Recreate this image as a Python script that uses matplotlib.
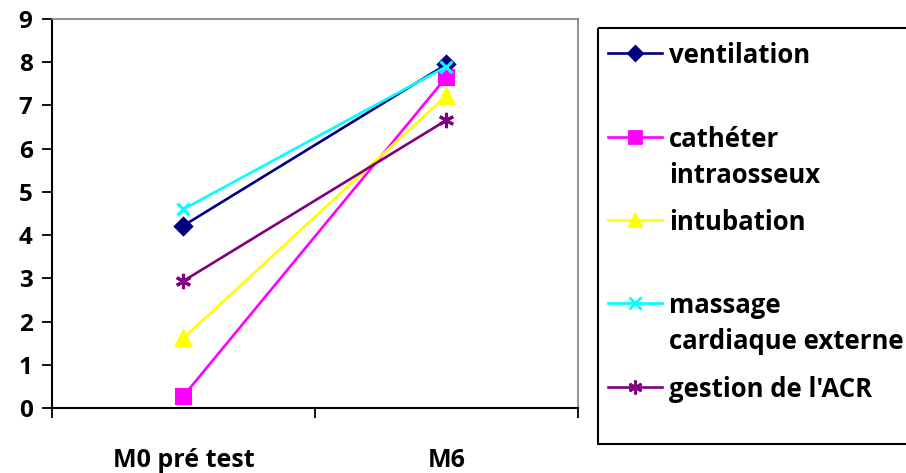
import matplotlib
matplotlib.use("Agg")
import matplotlib.pyplot as plt
from matplotlib.patches import Rectangle

plt.rcParams["font.family"] = ["Open Sans", "DejaVu Sans"]
plt.rcParams["font.weight"] = "bold"

# data
periods = ["M0 pré test", "M6"]
ventilation = [4.22, 7.95]
catheter = [0.28, 7.66]
intubation = [1.62, 7.23]
massage = [4.6, 7.9]
gestion = [2.94, 6.66]

labels = ["ventilation", "cathéter\nintraosseux", "intubation",
          "massage\ncardiaque externe", "gestion de l'ACR"]
colors = ["#000080", "#FF00FF", "#FFFF00", "#00FFFF", "#800080"]
markers = ["D", "s", "^", "x", (6, 2, 0)]
msizes = [8, 10, 10, 9, 11]
series = [ventilation, catheter, intubation, massage, gestion]

W, H = 906, 473
fig = plt.figure(figsize=(W / 100, H / 100), dpi=100)
ax = fig.add_axes([52 / W, 1 - 408 / H, (578 - 52) / W, (408 - 19) / H])

x = list(range(len(periods)))
for vals, c, m, ms in zip(series, colors, markers, msizes):
    ax.plot(x, vals, color=c, lw=1.9, marker=m, ms=ms, mec=c, mfc=c, mew=2.2)

ax.set_xlim(-0.5, 1.5)
ax.set_ylim(0, 9)
ax.set_yticks(range(10))
ax.set_xticks([-0.5, 0.5, 1.5], minor=False)
ax.set_xticklabels([])
ax.set_xticks(x, minor=True)
ax.set_xticklabels(periods, minor=True)
ax.tick_params(axis="x", which="minor", length=0, pad=29, labelsize=18)
ax.tick_params(axis="x", which="major", length=7, width=1.3, direction="out")
ax.tick_params(axis="y", length=7, width=1.3, direction="out", labelsize=17.5, pad=7)
for s in ["left", "bottom"]:
    ax.spines[s].set_color("black")
    ax.spines[s].set_linewidth(1.5)
for s in ["top", "right"]:
    ax.spines[s].set_color("#808080")
    ax.spines[s].set_linewidth(1.2)

# legend drawn by hand in pixel coords
lax = fig.add_axes([0, 0, 1, 1], facecolor="none")
lax.set_xlim(0, W)
lax.set_ylim(H, 0)
lax.axis("off")
lax.add_patch(Rectangle((598, 28), 320, 416, fill=False, ec="black", lw=1.5,
                        clip_on=False))
rows = [53, 137, 220, 303, 387]
for y, lab, c, m, ms in zip(rows, labels, colors, markers, msizes):
    lax.plot([608, 662], [y, y], color=c, lw=1.9)
    lax.plot([635], [y], marker=m, color=c, ms=ms - 1, mec=c, mfc=c, mew=2)
    for i, line in enumerate(lab.split("\n")):
        lax.text(669, y + 10 + 36 * i, line, fontsize=18.5, va="baseline",
                 ha="left")

fig.savefig("out.png", dpi=100)
